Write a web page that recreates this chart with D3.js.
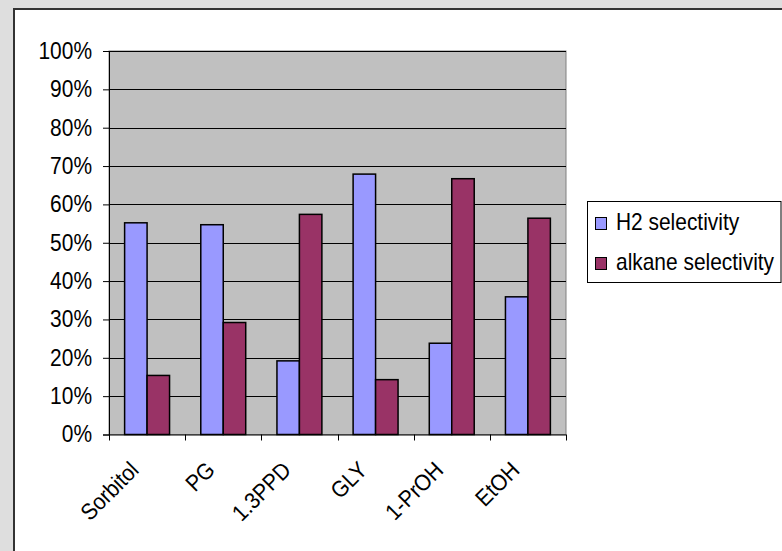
<!DOCTYPE html>
<html><head><meta charset="utf-8">
<script src="https://cdn.jsdelivr.net/npm/d3@7"></script>
<style>html,body{margin:0;padding:0;background:#dedede;overflow:hidden}</style>
</head><body>
<svg id="c" width="782" height="551"></svg>
<script>
const categories = ["Sorbitol","PG","1.3PPD","GLY","1-PrOH","EtOH"];
const seriesNames = ["H2 selectivity","alkane selectivity"];
const h2Values = [0.552, 0.547, 0.192, 0.679, 0.238, 0.359];
const alkaneValues = [0.154, 0.292, 0.574, 0.143, 0.667, 0.564];
const yTicks = [0,0.1,0.2,0.3,0.4,0.5,0.6,0.7,0.8,0.9,1.0];
const colors = ["#9999ff","#993366"];

const svg = d3.select("#c");
const font = "Liberation Sans, Arial, sans-serif";
const FS = 23, SQ = 0.91;
function squeeze(sel){
  sel.each(function(){
    const w = this.getComputedTextLength();
    this.setAttribute("textLength", (w*SQ).toFixed(2));
    this.setAttribute("lengthAdjust","spacingAndGlyphs");
  });
}
// panel
svg.append("rect").attr("x",0).attr("y",0).attr("width",782).attr("height",551).attr("fill","#dedede");
svg.append("rect").attr("x",14).attr("y",9).attr("width",800).attr("height",600).attr("fill","#fff").attr("stroke","#333").attr("stroke-width",2);

const L=109, R=566, T=51, B=434.5;
const x = d3.scaleBand().domain(categories).range([L,R]).paddingInner(0.41).paddingOuter(0.205);
const xs = d3.scaleBand().domain(seriesNames).range([0,x.bandwidth()]);
const y = d3.scaleLinear().domain([0,1]).range([B,T]);

const g = svg.append("g");
g.append("rect").attr("x",L).attr("y",T).attr("width",R-L).attr("height",B-T).attr("fill","#c0c0c0").attr("stroke","#808080").attr("stroke-width",1);
g.selectAll("line.grid").data(yTicks.filter(d=>d>0)).join("line")
  .attr("x1",L).attr("x2",R).attr("y1",d=>Math.round(y(d))+0.5).attr("y2",d=>Math.round(y(d))+0.5)
  .attr("stroke","#000").attr("stroke-width",1);

const data = categories.map((c,i)=>({c, vals:[h2Values[i], alkaneValues[i]]}));
const grp = g.selectAll("g.cat").data(data).join("g").attr("transform",d=>`translate(${x(d.c)},0)`);
grp.selectAll("rect").data(d=>d.vals.map((v,j)=>({v,s:seriesNames[j],j}))).join("rect")
  .attr("x",d=>xs(d.s)).attr("width",xs.bandwidth())
  .attr("y",d=>y(d.v)).attr("height",d=>B-y(d.v))
  .attr("fill",d=>colors[d.j]).attr("stroke","#000").attr("stroke-width",1.5);

// y axis
const yAxis = d3.axisLeft(y).tickValues(yTicks).tickFormat(d3.format(".0%")).tickSize(6).tickPadding(11);
const ya = g.append("g").attr("transform",`translate(${L},0)`).call(yAxis);
ya.select(".domain").attr("stroke","#000");
ya.selectAll("text").attr("font-family",font).attr("font-size",FS).attr("fill","#000").call(squeeze);
// x axis
const xAxis = d3.axisBottom(x).tickSize(0).tickFormat("");
const xa = g.append("g").attr("transform",`translate(0,${B})`).call(xAxis);
xa.select(".domain").attr("d",`M${L},0.5H${R}`).attr("stroke","#000");
const step = (R-L)/categories.length;
xa.selectAll("line.tk").data(d3.range(categories.length+1)).join("line")
  .attr("x1",i=>Math.round(L+i*step)+0.5).attr("x2",i=>Math.round(L+i*step)+0.5)
  .attr("y1",0).attr("y2",6).attr("stroke","#000");
xa.selectAll("text.lbl").data(categories).join("text")
  .attr("transform",d=>`translate(${x(d)+x.bandwidth()/2-7},${37}) rotate(-45) scale(${SQ},1)`)
  .attr("text-anchor","end").attr("font-family",font).attr("font-size",FS).attr("fill","#000")
  .text(d=>d);

// legend
const lg = svg.append("g");
lg.append("rect").attr("x",587.5).attr("y",201.5).attr("width",193.5).attr("height",81).attr("fill","#fff").attr("stroke","#000");
const li = lg.selectAll("g.it").data(seriesNames).join("g").attr("transform",(d,i)=>`translate(0,${230+i*40})`);
li.append("rect").attr("x",595.5).attr("y",-12.5).attr("width",11).attr("height",12).attr("fill",(d,i)=>colors[i]).attr("stroke","#000");
li.append("text").attr("transform",`translate(616,0) scale(${SQ},1)`).attr("font-family",font).attr("font-size",FS).attr("fill","#000").text(d=>d);
</script>
</body></html>
